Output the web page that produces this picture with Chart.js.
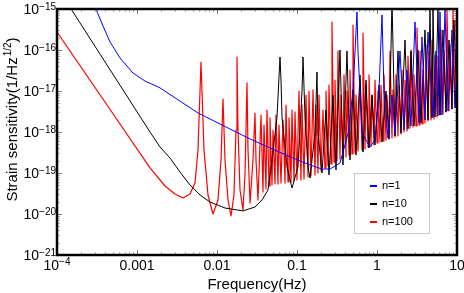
<!DOCTYPE html>
<html>
<head>
<meta charset="utf-8">
<script src="https://cdn.jsdelivr.net/npm/chart.js@4.4.1/dist/chart.umd.min.js"></script>
<style>
  html, body { margin: 0; padding: 0; background: #fff; }
  #chart { display: block; }
</style>
</head>
<body>
<canvas id="chart" width="464" height="293"></canvas>
<script>
// --- data (frequency in Hz, strain in 1/Hz^1/2) ---
const seriesNames = ['n=1', 'n=10', 'n=100'];

const blueFreq = [3.07e-4, 3.76e-4, 4.6e-4, 6.13e-4, 8.9e-4, 1.26e-3, 1.94e-3, 5.79e-3, 0.0259, 0.0772,
  0.145, 0.205, 0.259, 0.345, 0.434, 0.501, 0.546, 0.562, 0.579, 0.649,
  0.818, 0.944, 1.059, 1.155, 1.223, 1.373, 1.54, 1.679, 1.939, 2.175,
  2.371, 2.661, 2.985, 3.35, 3.652, 3.981, 4.34, 5.012, 5.464, 5.788,
  6.131, 6.494, 7.079, 7.718, 8.66, 9.441, 10];
const blueStrain = [1e-15, 3.85e-16, 1.57e-16, 6.38e-17, 2.75e-17, 1.75e-17, 1.19e-17, 2.91e-18, 6.75e-19, 2.6e-19,
  1.57e-19, 1.25e-19, 1.25e-19, 1.75e-19, 8.94e-19, 1e-17, 2.6e-16, 8.45e-16, 9.45e-17, 9.45e-19,
  4.31e-19, 6.38e-19, 1e-17, 7.14e-16, 1e-17, 7.14e-19, 7.99e-18, 8.94e-19, 9.45e-17, 1.12e-18,
  3.25e-17, 1.4e-18, 4.82e-16, 1.66e-18, 2.08e-16, 1.96e-18, 2.75e-16, 2.32e-18, 9.45e-17, 2.46e-18,
  8.45e-16, 2.6e-18, 9.45e-16, 3.25e-18, 3.08e-16, 3.85e-18, 3.25e-17];

const blackFreq = [1.5e-4, 1.454e-3, 1.94e-3, 2.585e-3, 3.447e-3, 4.597e-3, 6.131e-3, 8.175e-3, 0.01259, 0.02113,
  0.02985, 0.03652, 0.0434, 0.0487, 0.05623, 0.05957, 0.06131, 0.0631, 0.06494, 0.07499,
  0.0866, 0.1029, 0.1155, 0.1189, 0.1259, 0.1373, 0.1454, 0.1679, 0.1778, 0.183,
  0.2054, 0.2304, 0.2512, 0.2818, 0.3073, 0.3447, 0.3758, 0.4217, 0.4597, 0.501,
  0.5464, 0.6131, 0.6683, 0.7286, 0.7943, 0.866, 0.9441, 1.059, 1.155, 1.296,
  1.413, 1.54, 1.679, 1.83, 1.995, 2.239, 2.441, 2.661, 2.901, 3.255,
  3.548, 3.981, 4.34, 4.597, 4.87, 5.012, 5.309, 5.788, 6.131, 6.683,
  7.286, 7.943, 8.66, 9.173, 10];
const blackStrain = [1e-15, 1e-18, 4.31e-19, 2.32e-19, 1.06e-19, 5.1e-20, 2.91e-20, 1.96e-20, 1.4e-20, 1.19e-20,
  1.48e-20, 2.2e-20, 3.85e-20, 2.08e-19, 2.32e-18, 2.2e-17, 6.75e-17, 1.85e-17, 2.32e-18, 1.4e-19,
  4.31e-20, 1.4e-19, 1e-17, 6.75e-17, 2.32e-18, 1.4e-19, 7.55e-20, 9.45e-19, 2.91e-17, 9.45e-19,
  1e-19, 3.44e-18, 8.94e-20, 7.99e-18, 1.19e-19, 1e-16, 1.57e-19, 9.45e-17, 2.08e-19, 1.06e-17,
  2.75e-19, 2.46e-17, 3.25e-19, 1.85e-17, 4.07e-19, 7.99e-18, 4.82e-19, 1.4e-17, 5.7e-19, 1e-17,
  6.75e-19, 1.5e-15, 7.99e-19, 9.45e-17, 9.45e-19, 1.75e-16, 1.19e-18, 9.45e-17, 1.4e-18, 1e-16,
  1.66e-18, 3.08e-16, 1.96e-18, 9.45e-16, 2.2e-18, 9.45e-16, 2.32e-18, 9.45e-16, 2.6e-18, 3.08e-16,
  3.08e-18, 1.75e-16, 3.64e-18, 5.39e-16, 4.31e-18];

const redFreq = [1e-4, 6.131e-4, 1.454e-3, 2.239e-3, 2.985e-3, 3.758e-3, 4.597e-3, 5.309e-3, 5.788e-3, 6.131e-3,
  6.31e-3, 6.494e-3, 6.879e-3, 7.718e-3, 8.913e-3, 0.01029, 0.01122, 0.01189, 0.01259, 0.01373,
  0.01496, 0.0163, 0.01728, 0.01778, 0.0183, 0.01939, 0.02113, 0.02239, 0.02371, 0.02441,
  0.0259, 0.02818, 0.02985, 0.03073, 0.03255,
  0.03548, 0.03758, 0.03868, 0.04097, 0.04217, 0.04467, 0.04597, 0.0487, 0.05012, 0.05309,
  0.05464, 0.05788, 0.05957, 0.0631, 0.06683, 0.07079, 0.07286, 0.0772, 0.07943, 0.08414,
  0.0866, 0.09173, 0.09441, 0.1, 0.1059, 0.1122, 0.1155, 0.1223, 0.1296, 0.1373,
  0.1413, 0.1496, 0.1585, 0.1679, 0.1728, 0.183, 0.1884, 0.1995, 0.2113, 0.2239,
  0.2304, 0.2441, 0.2512, 0.2661, 0.2738, 0.2901, 0.2985, 0.3162, 0.3255, 0.3447,
  0.3548, 0.3758, 0.3868, 0.4097, 0.4217, 0.4467, 0.4597, 0.487, 0.501, 0.5309,
  0.5464, 0.5788, 0.6131, 0.6494, 0.6683, 0.7079, 0.7286, 0.7718, 0.7943, 0.8414,
  0.866, 0.9173, 0.9441, 1.0, 1.029, 1.09, 1.122, 1.189, 1.223, 1.296,
  1.334, 1.413, 1.454, 1.54, 1.585, 1.679, 1.728, 1.83, 1.884, 1.995,
  2.054, 2.175, 2.239, 2.371, 2.441, 2.585, 2.661, 2.818, 2.901, 3.073,
  3.162, 3.35, 3.447, 3.652, 3.758, 3.981, 4.097, 4.34, 4.467, 4.732,
  4.87, 5.158, 5.309, 5.623, 5.788, 6.131, 6.31, 6.683, 6.879, 7.286,
  7.499, 7.943, 8.175, 8.66, 8.913, 9.441, 9.716, 10];
const redStrain = [2.75e-16, 1.57e-18, 1.33e-19, 4.82e-20, 3.08e-20, 2.46e-20, 3.08e-20, 5.7e-20, 3.64e-19, 1e-17,
  5.1e-17, 1e-17, 3.64e-19, 2.91e-20, 1e-20, 2.2e-20, 2.08e-19, 6.38e-18, 2.08e-19, 2.2e-20,
  8.94e-21, 2.91e-20, 1.12e-18, 6.75e-17, 1.12e-18, 3.85e-20, 1.25e-20, 8.94e-20, 1.57e-17, 3.64e-19,
  1.85e-20, 2.08e-19, 2.91e-18, 2.08e-19, 2.2e-20,
  2.6e-18, 3.44e-20, 1.48e-18, 4.07e-20, 3.44e-18, 4.82e-20, 2.2e-18, 5.1e-20, 1.12e-18, 5.39e-20,
  2.6e-18, 5.39e-20, 1.48e-18, 5.7e-20, 1.96e-18, 5.7e-20, 4.56e-18, 6.03e-20, 2.2e-18, 6.03e-20,
  3.44e-18, 6.38e-20, 3.08e-18, 6.75e-20, 1e-17, 6.75e-20, 4.56e-18, 7.14e-20, 7.99e-18, 7.99e-20,
  1e-17, 8.45e-20, 1.06e-17, 8.94e-20, 4.56e-18, 1e-19, 7.99e-18, 1.12e-19, 3.44e-18, 1.33e-19,
  1e-17, 1.48e-19, 1.4e-17, 1.66e-19, 4.82e-16, 1.85e-19, 1.85e-17, 1.96e-19, 9.45e-17, 2.2e-19,
  7.99e-18, 2.32e-19, 2.46e-17, 2.46e-19, 1e-17, 2.75e-19, 3.25e-17, 2.91e-19, 4.07e-16, 3.08e-19,
  7.99e-18, 3.44e-19, 1.85e-17, 3.64e-19, 2.6e-16, 3.85e-19, 1.4e-17, 4.31e-19, 2.46e-17, 4.56e-19,
  7.99e-18, 4.82e-19, 1.85e-17, 5.39e-19, 1e-17, 5.7e-19, 1.4e-17, 6.03e-19, 2.46e-17, 6.38e-19,
  7.99e-18, 6.75e-19, 9.45e-17, 7.14e-19, 1.06e-17, 7.55e-19, 2.46e-17, 7.99e-19, 1.4e-17, 8.94e-19,
  3.25e-17, 1e-18, 1.85e-17, 1.06e-18, 7.14e-17, 1.25e-18, 1e-16, 1.33e-18, 2.46e-17, 1.4e-18,
  3.44e-16, 1.48e-18, 9.45e-17, 1.57e-18, 3.25e-17, 1.66e-18, 1.33e-16, 1.85e-18, 9.45e-17, 1.96e-18,
  1.75e-16, 2.08e-18, 7.55e-17, 2.32e-18, 7.14e-17, 2.6e-18, 3.08e-16, 2.75e-18, 1e-16, 3.08e-18,
  9.45e-16, 3.25e-18, 1.33e-16, 3.64e-18, 9.45e-16, 4.07e-18, 5.39e-16, 4.31e-18];

const xTicks = [1e-4, 1e-3, 1e-2, 1e-1, 1, 10];
const xTickLabels = ['10^\u22124', '0.001', '0.01', '0.1', '1', '10'];
const yTicks = [1e-21, 1e-20, 1e-19, 1e-18, 1e-17, 1e-16, 1e-15];
const yTickLabels = ['10^\u221221', '10^\u221220', '10^\u221219', '10^\u221218', '10^\u221217', '10^\u221216', '10^\u221215'];

const FONT = "'Liberation Sans', Arial, sans-serif";
const colors = ['#0000ff', '#000000', '#ff0000'];
const widths = [1, 1, 1.2];

const toPoints = (fs, hs) => fs.map((f, i) => ({ x: f, y: hs[i] }));

// draws "base^exp" with a raised, smaller exponent
function drawPow(ctx, text, x, y, align, size, supSize, raise) {
    const [base, exp] = text.split('^');
    ctx.font = size + 'px ' + FONT;
    const wb = ctx.measureText(base).width;
    let we = 0;
    if (exp) {
        ctx.font = supSize + 'px ' + FONT;
        we = ctx.measureText(exp).width;
    }
    const total = wb + we;
    let sx = x;
    if (align === 'right') sx = x - total;
    if (align === 'center') sx = x - total / 2;
    ctx.textAlign = 'left';
    ctx.textBaseline = 'alphabetic';
    ctx.font = size + 'px ' + FONT;
    ctx.fillText(base, sx, y);
    if (exp) {
        ctx.font = supSize + 'px ' + FONT;
        ctx.fillText(exp, sx + wb, y - raise);
    }
}

const framePlugin = {
    id: 'framePlugin',
    afterDraw(chart) {
        const { ctx, chartArea: a, scales: { x, y } } = chart;
        ctx.save();
        ctx.fillStyle = '#000';

        // minor + major ticks on all four sides
        ctx.lineWidth = 1;
        for (let d = -4; d <= 1; d++) {
            for (let k = 1; k <= 9; k++) {
                const v = k * Math.pow(10, d);
                if (v < 1e-4 || v > 10) continue;
                const px = Math.round(x.getPixelForValue(v)) + 0.5;
                const len = k === 1 ? 5 : 3;
                ctx.strokeStyle = k === 1 ? 'rgba(0,0,0,0.5)' : 'rgba(0,0,0,0.3)';
                ctx.beginPath();
                ctx.moveTo(px, a.bottom); ctx.lineTo(px, a.bottom - len);
                ctx.moveTo(px, a.top); ctx.lineTo(px, a.top + len);
                ctx.stroke();
            }
        }
        for (let d = -21; d <= -15; d++) {
            for (let k = 1; k <= 9; k++) {
                const v = k * Math.pow(10, d);
                if (v > 1e-15 * 1.0001) continue;
                const py = Math.round(y.getPixelForValue(v)) + 0.5;
                const len = k === 1 ? 5 : 3;
                ctx.strokeStyle = k === 1 ? 'rgba(0,0,0,0.5)' : 'rgba(0,0,0,0.3)';
                ctx.beginPath();
                ctx.moveTo(a.left, py); ctx.lineTo(a.left + len, py);
                ctx.moveTo(a.right, py); ctx.lineTo(a.right - len, py);
                ctx.stroke();
            }
        }

        // frame
        ctx.strokeStyle = '#000';
        ctx.lineWidth = 2.5;
        ctx.strokeRect(a.left, a.top, a.right - a.left, a.bottom - a.top);

        // tick labels
        xTicks.forEach((v, i) => {
            drawPow(ctx, xTickLabels[i], x.getPixelForValue(v), a.bottom + 15, 'center', 14, 10, 5);
        });
        yTicks.forEach((v, i) => {
            drawPow(ctx, yTickLabels[i], a.left - 1, y.getPixelForValue(v) + 5, 'right', 14, 10, 4);
        });

        // axis titles
        ctx.font = '15px ' + FONT;
        ctx.textAlign = 'center';
        ctx.textBaseline = 'alphabetic';
        ctx.fillText('Frequency(Hz)', (a.left + a.right) / 2, 289);

        ctx.save();
        ctx.translate(17, 120);
        ctx.rotate(-Math.PI / 2);
        const p1 = 'Strain sensitivity(1/Hz', p2 = '1/2', p3 = ')';
        ctx.font = '15px ' + FONT;
        const w1 = ctx.measureText(p1).width, w3 = ctx.measureText(p3).width;
        ctx.font = '10px ' + FONT;
        const w2 = ctx.measureText(p2).width;
        const start = -(w1 + w2 + w3) / 2;
        ctx.textAlign = 'left';
        ctx.font = '15px ' + FONT;
        ctx.fillText(p1, start, 0);
        ctx.font = '10px ' + FONT;
        ctx.fillText(p2, start + w1 + 1, -6);
        ctx.font = '15px ' + FONT;
        ctx.fillText(p3, start + w1 + w2 + 1, 0);
        ctx.restore();

        // legend box
        const lx = 354.5, ly = 173.5, lw = 75, lh = 60;
        ctx.fillStyle = '#fff';
        ctx.fillRect(lx, ly, lw, lh);
        ctx.strokeStyle = '#c8c8c8';
        ctx.lineWidth = 1;
        ctx.strokeRect(lx, ly, lw, lh);
        seriesNames.forEach((name, i) => {
            const cy = 186 + i * 18;
            ctx.strokeStyle = colors[i];
            ctx.lineWidth = 2;
            ctx.beginPath();
            ctx.moveTo(370, cy); ctx.lineTo(377, cy);
            ctx.stroke();
            ctx.fillStyle = '#000';
            ctx.font = '11px ' + FONT;
            ctx.textAlign = 'left';
            ctx.textBaseline = 'middle';
            ctx.fillText(name, 382, cy);
        });

        ctx.restore();
    }
};

const canvas = document.getElementById('chart');
new Chart(canvas.getContext('2d'), {
    type: 'line',
    data: {
        datasets: [
            { label: seriesNames[0], data: toPoints(blueFreq, blueStrain), borderColor: colors[0], borderWidth: widths[0] },
            { label: seriesNames[1], data: toPoints(blackFreq, blackStrain), borderColor: colors[1], borderWidth: widths[1] },
            { label: seriesNames[2], data: toPoints(redFreq, redStrain), borderColor: colors[2], borderWidth: widths[2] }
        ]
    },
    options: {
        responsive: false,
        animation: false,
        events: [],
        layout: { padding: { left: 0, right: 7, top: 9, bottom: 0 } },
        elements: {
            point: { radius: 0 },
            line: { tension: 0, borderJoinStyle: 'round', fill: false }
        },
        scales: {
            x: {
                type: 'logarithmic',
                min: 1e-4,
                max: 10,
                grid: { display: false },
                border: { display: false },
                ticks: { display: false },
                afterFit: (s) => { s.height = 38; }
            },
            y: {
                type: 'logarithmic',
                min: 1e-21,
                max: 1e-15,
                grid: { display: false },
                border: { display: false },
                ticks: { display: false },
                afterFit: (s) => { s.width = 57; }
            }
        },
        plugins: {
            legend: { display: false },
            tooltip: { enabled: false }
        }
    },
    plugins: [framePlugin]
});
</script>
</body>
</html>
